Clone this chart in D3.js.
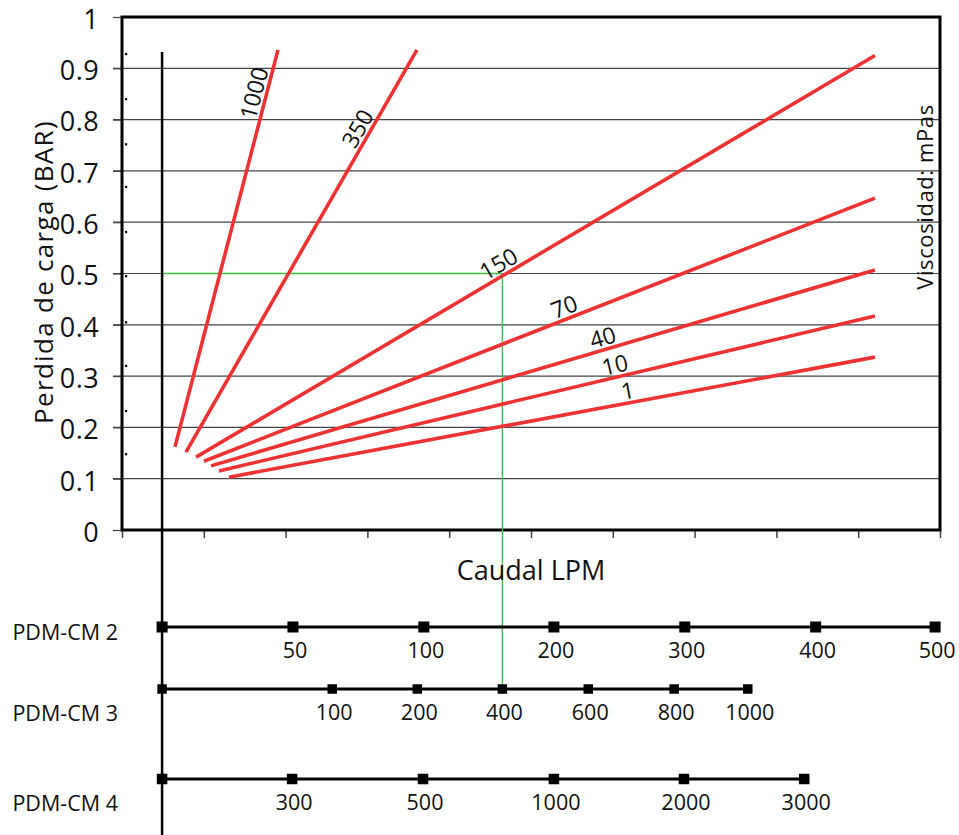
<!DOCTYPE html>
<html><head><meta charset="utf-8">
<script src="https://cdn.jsdelivr.net/npm/d3@7"></script>
<style>body{margin:0;background:#fff}svg{display:block;font-family:"Open Sans",sans-serif}</style>
</head><body><svg id="c" width="959" height="835"></svg>
<script>
// ---- data ----
const yTickValues = [0,0.1,0.2,0.3,0.4,0.5,0.6,0.7,0.8,0.9,1];
const yTickLabels = ["0","0.1","0.2","0.3","0.4","0.5","0.6","0.7","0.8","0.9","1"];
const xTickValues = [0,1,2,3,4,5,6,7,8,9,10];
const viscosities = ["1000","350","150","70","40","10","1"];
const startX = [0.648,0.782,0.905,1.002,1.088,1.186,1.308];
const startY = [0.162,0.152,0.142,0.134,0.125,0.115,0.103];
const endX   = [1.907,3.606,9.205,9.205,9.205,9.205,9.205];
const endY   = [0.936,0.936,0.925,0.647,0.507,0.417,0.337];
const labelAt = [1.76,3.01,4.68,5.46,5.92,6.06,6.21];
const minorDots = [0.928,0.840,0.752,0.669,0.581,0.495,0.405,0.320,0.232,0.148];
const origin = 0.49;
const exampleX = 4.65, exampleY = 0.5;
const scaleNames = ["PDM-CM 2","PDM-CM 3","PDM-CM 4"];
const cm2Labels = ["","50","100","200","300","400","500"];
const cm2Pos    = [0.49,2.09,3.69,5.28,6.88,8.48,9.94];
const cm3Labels = ["","100","200","400","600","800","1000"];
const cm3Pos    = [0.49,2.57,3.61,4.65,5.70,6.75,7.65];
const cm4Labels = ["","300","500","1000","2000","3000"];
const cm4Pos    = [0.49,2.08,3.68,5.28,6.87,8.34];

// ---- layout ----
const L=122, R=940, T=17, B=530;
const svg = d3.select("#c");
const x = d3.scaleLinear().domain([0,10]).range([L,R]);
const y = d3.scaleLinear().domain([0,1]).range([B,T]);
const red = "#ec3232";

// grid lines (extend left as ticks)
svg.append("g").selectAll("line").data(yTickValues.slice(1,10)).join("line")
  .attr("x1",113).attr("x2",R).attr("y1",d=>y(d)).attr("y2",d=>y(d))
  .attr("stroke","#444").attr("stroke-width",1.2);

// y axis with labels
const yAxis = d3.axisLeft(y).tickValues(yTickValues).tickFormat((d,i)=>yTickLabels[i]).tickSize(9).tickPadding(14);
const gy = svg.append("g").attr("transform",`translate(${L},0)`).call(yAxis);
gy.attr("font-size",null).attr("font-family",null);
gy.select(".domain").remove();
gy.selectAll(".tick line").attr("stroke","#444").attr("stroke-width",1.2);
gy.selectAll(".tick text").attr("font-size",27).attr("letter-spacing",0.4).attr("fill","#111")
  .attr("dy","0.42em");

// x axis ticks (no labels)
const xAxis = d3.axisBottom(x).tickValues(xTickValues).tickFormat("").tickSize(8);
const gx = svg.append("g").attr("transform",`translate(0,${B})`).call(xAxis);
gx.select(".domain").remove();
gx.selectAll(".tick line").attr("stroke","#444").attr("stroke-width",1.5);

// minor dots
svg.append("g").selectAll("rect").data(minorDots).join("rect")
  .attr("x",125).attr("y",d=>y(d)-1).attr("width",2.2).attr("height",2.2).attr("fill","#000");

// frame
svg.append("rect").attr("x",L).attr("y",T).attr("width",R-L).attr("height",B-T)
  .attr("fill","none").attr("stroke","#000").attr("stroke-width",3);

// green example lines
svg.append("line").attr("x1",x(origin)).attr("x2",x(exampleX)).attr("y1",y(exampleY)).attr("y2",y(exampleY))
  .attr("stroke","#3cc23c").attr("stroke-width",1.3);
svg.append("line").attr("x1",x(exampleX)).attr("x2",x(exampleX)).attr("y1",y(exampleY)).attr("y2",694)
  .attr("stroke","#3cc23c").attr("stroke-width",1.3);

// vertical origin line
svg.append("line").attr("x1",x(origin)).attr("x2",x(origin)).attr("y1",52).attr("y2",835)
  .attr("stroke","#000").attr("stroke-width",2.5);

// red viscosity lines
const g = svg.append("g");
viscosities.forEach((v,i)=>{
  const x1=x(startX[i]), y1=y(startY[i]), x2=x(endX[i]), y2=y(endY[i]);
  g.append("line").attr("x1",x1).attr("y1",y1).attr("x2",x2).attr("y2",y2)
    .attr("stroke",red).attr("stroke-width",3.6);
  const t=(labelAt[i]-startX[i])/(endX[i]-startX[i]);
  const lx=x1+(x2-x1)*t, ly=y1+(y2-y1)*t;
  const ang=Math.atan2(y2-y1,x2-x1)*180/Math.PI;
  g.append("text").attr("transform",`translate(${lx},${ly}) rotate(${ang})`)
    .attr("dy",-4).attr("text-anchor","middle").attr("font-size",23).attr("fill","#111").text(v);
});

// axis titles
svg.append("text").attr("transform","translate(53,272) rotate(-90)").attr("text-anchor","middle")
  .attr("font-size",26).attr("letter-spacing",1.3).attr("fill","#111").text("Perdida de carga (BAR)");
svg.append("text").attr("x",531).attr("y",580).attr("text-anchor","middle")
  .attr("font-size",27).attr("fill","#111").text("Caudal LPM");
svg.append("text").attr("transform","translate(933,197) rotate(-90)").attr("text-anchor","middle")
  .attr("font-size",22).attr("letter-spacing",0.6).attr("fill","#111").text("Viscosidad: mPas");

// bottom scales
const rows = [
  {name:scaleNames[0], labels:cm2Labels, pos:cm2Pos, yy:627, size:11, nameY:640},
  {name:scaleNames[1], labels:cm3Labels, pos:cm3Pos, yy:689, size:9.5, nameY:721},
  {name:scaleNames[2], labels:cm4Labels, pos:cm4Pos, yy:779, size:10.5, nameY:811}
];
rows.forEach(r=>{
  const gr = svg.append("g");
  gr.append("line").attr("x1",x(r.pos[0])).attr("x2",x(r.pos[r.pos.length-1]))
    .attr("y1",r.yy).attr("y2",r.yy).attr("stroke","#000").attr("stroke-width",3);
  gr.selectAll("rect").data(r.pos).join("rect")
    .attr("x",d=>x(d)-r.size/2).attr("y",r.yy-r.size/2).attr("width",r.size).attr("height",r.size).attr("fill","#000");
  gr.selectAll("text.v").data(r.labels).join("text").attr("class","v")
    .attr("x",(d,i)=>x(r.pos[i])+2).attr("y",r.yy+31).attr("text-anchor","middle")
    .attr("font-size",21.5).attr("fill","#111").text(d=>d);
  gr.append("text").attr("x",118).attr("y",r.nameY).attr("text-anchor","end")
    .attr("font-size",21.5).attr("fill","#111").text(r.name);
});
</script></body></html>
